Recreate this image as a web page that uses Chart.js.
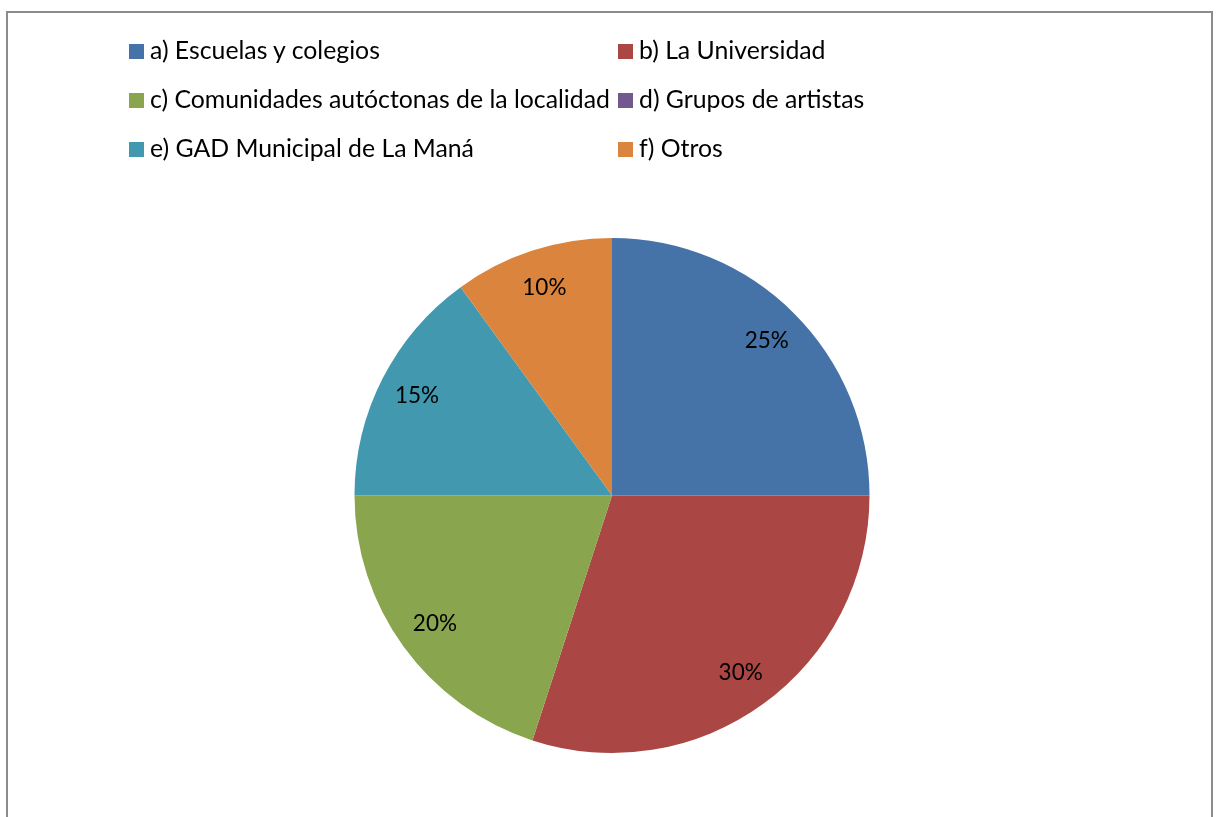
<!DOCTYPE html>
<html>
<head>
<meta charset="utf-8">
<script src="https://cdn.jsdelivr.net/npm/chart.js@4/dist/chart.umd.min.js"></script>
<style>
  html, body { margin: 0; padding: 0; background: #fff; }
  body { width: 1216px; height: 817px; position: relative; overflow: hidden; font-family: Lato, "Open Sans", sans-serif; }
  #frame { position: absolute; left: 6px; top: 11px; width: 1207px; height: 820px; border: 2px solid #8c8c8c; box-sizing: border-box; }
  #wrap { position: absolute; left: 0; top: 0; width: 1216px; height: 817px; }
  #legend { position: absolute; left: 129px; top: 36px; }
  .item { position: absolute; white-space: nowrap; font-size: 24.8px; color: #000; line-height: 28px; }
  .box { display: inline-block; width: 15px; height: 15px; margin-right: 6px; vertical-align: 0px; }
</style>
</head>
<body>
<div id="frame"></div>
<div id="wrap"><canvas id="myChart" width="1216" height="817"></canvas></div>
<div id="legend"></div>
<script>
let labels = ['a) Escuelas y colegios', 'b) La Universidad', 'c) Comunidades autóctonas de la localidad', 'd) Grupos de artistas', 'e) GAD Municipal de La Maná', 'f) Otros'];
let values = [25, 30, 20, 0, 15, 10];
let colors = ['#4572A7', '#AA4643', '#89A54E', '#71588F', '#4198AF', '#DB843D'];

// legend, two columns like the original
let leg = document.getElementById('legend');
labels.map((l, i) => {
    let d = document.createElement('div');
    d.className = 'item';
    d.style.left = (i % 2 ? 489 : 0) + 'px';
    d.style.top = (Math.floor(i / 2) * 49) + 'px';
    d.innerHTML = '<span class="box" style="background:' + colors[i] + '"></span>' + l;
    leg.appendChild(d);
});

// percent labels inside the slices
const pctLabels = {
    id: 'pctLabels',
    afterDatasetsDraw(chart) {
        let ctx = chart.ctx;
        let meta = chart.getDatasetMeta(0);
        let total = values.reduce((a, b) => a + b, 0);
        ctx.save();
        ctx.font = '22.5px Lato, "Open Sans", sans-serif';
        ctx.fillStyle = '#000';
        ctx.textAlign = 'center';
        ctx.textBaseline = 'middle';
        meta.data.forEach((arc, i) => {
            if (!values[i]) return;
            let p = arc.getProps(['x', 'y', 'startAngle', 'endAngle', 'outerRadius'], true);
            let a = (p.startAngle + p.endAngle) / 2;
            let r = p.outerRadius * 0.85;
            ctx.fillText(Math.round(values[i] / total * 100) + '%', p.x + Math.cos(a) * r, p.y + Math.sin(a) * r);
        });
        ctx.restore();
    }
};

var ctx = document.getElementById('myChart').getContext('2d');
var myChart = new Chart(ctx, {
    type: 'pie',
    data: {
        labels: labels,
        datasets: [{
            data: values,
            backgroundColor: colors,
            borderWidth: 0
        }]
    },
    options: {
        responsive: false,
        animation: false,
        layout: { padding: { top: 238, bottom: 64, left: 354, right: 346 } },
        plugins: {
            legend: { display: false },
            tooltip: { enabled: false }
        }
    },
    plugins: [pctLabels]
});
</script>
</body>
</html>
